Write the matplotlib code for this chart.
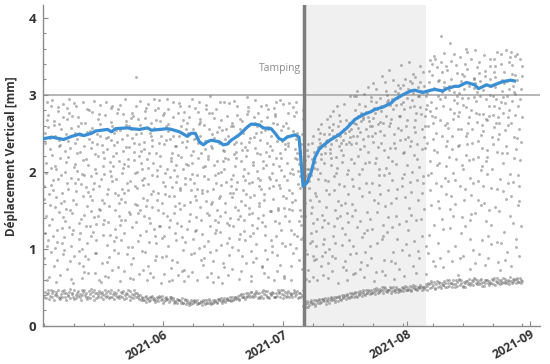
import matplotlib
matplotlib.use('Agg')
import matplotlib.pyplot as plt
import matplotlib.dates as mdates
import matplotlib.ticker as mticker
import numpy as np
import pandas as pd

plt.rcParams['font.family'] = ['Open Sans', 'DejaVu Sans']

# ---------------- data ----------------
first_day = '2021-05-02'
# hour of day of each of the 18 daily readings (same order as the values below)
reading_hours = [0.5, 14.2, 3.1, 19.6, 7.4, 11.8, 22.3, 5.2, 16.9,
                 1.7, 9.5, 20.8, 12.6, 4.3, 17.7, 8.1, 23.2, 13.4]
# daily readings in hundredths of mm, one row per day starting at first_day
scatter_hundredths = [
    [38, 212, 88, 267, 44, 143, 59, 238, 41, 181, 120, 291, 36, 165, 104, 250, 47, 198],
    [42, 157, 274, 96, 35, 229, 183, 63, 46, 258, 131, 205, 39, 112, 286, 171, 43, 244],
    [37, 266, 139, 208, 45, 78, 247, 176, 40, 293, 117, 154, 34, 222, 101, 189, 41, 261],
    [44, 190, 57, 233, 39, 279, 148, 124, 36, 203, 86, 262, 47, 167, 241, 109, 38, 284],
    [35, 127, 218, 288, 41, 173, 93, 255, 45, 66, 196, 141, 38, 235, 271, 160, 43, 107],
    [46, 249, 162, 74, 37, 213, 283, 136, 42, 115, 227, 186, 33, 98, 269, 200, 40, 152],
    [39, 84, 240, 192, 44, 150, 61, 276, 36, 219, 128, 257, 48, 177, 103, 295, 41, 231],
    [43, 206, 119, 251, 38, 91, 185, 164, 47, 273, 56, 237, 35, 146, 210, 125, 40, 289],
    [36, 271, 175, 133, 42, 259, 82, 201, 39, 158, 243, 97, 45, 286, 113, 224, 37, 190],
    [41, 100, 226, 168, 34, 62, 290, 139, 46, 248, 184, 215, 40, 121, 77, 263, 44, 197],
    [47, 180, 144, 282, 40, 216, 107, 233, 37, 70, 264, 155, 43, 196, 252, 90, 35, 129],
    [38, 253, 69, 195, 45, 129, 231, 87, 41, 174, 280, 116, 36, 209, 149, 242, 48, 168],
    [44, 141, 278, 223, 39, 186, 95, 163, 34, 239, 122, 68, 46, 257, 204, 178, 42, 292],
    [36, 220, 111, 59, 43, 268, 152, 199, 40, 94, 236, 275, 38, 132, 182, 249, 45, 143],
    [42, 163, 246, 132, 37, 81, 208, 287, 44, 150, 57, 226, 41, 262, 118, 191, 35, 235],
    [40, 290, 197, 105, 46, 244, 171, 138, 38, 218, 274, 83, 43, 159, 229, 65, 39, 256],
    [45, 118, 64, 241, 36, 201, 265, 177, 42, 135, 89, 283, 37, 245, 194, 156, 47, 213],
    [37, 235, 188, 151, 41, 99, 126, 260, 35, 285, 207, 172, 44, 73, 250, 221, 40, 110],
    [43, 76, 254, 214, 38, 282, 160, 115, 46, 190, 239, 142, 39, 225, 94, 277, 36, 170],
    [39, 198, 131, 275, 44, 165, 227, 58, 37, 254, 112, 205, 42, 287, 178, 137, 45, 243],
    [35, 261, 172, 93, 40, 137, 248, 210, 43, 71, 294, 185, 36, 120, 232, 161, 41, 266],
    [46, 145, 217, 255, 39, 232, 80, 176, 34, 207, 148, 270, 45, 102, 188, 259, 38, 62],
    [41, 226, 102, 181, 36, 272, 199, 128, 40, 244, 61, 158, 47, 276, 215, 88, 43, 237],
    [38, 110, 286, 236, 42, 157, 67, 249, 37, 323, 179, 221, 40, 135, 268, 200, 35, 146],
    [40, 204, 150, 72, 34, 250, 183, 292, 38, 118, 227, 166, 36, 261, 97, 212, 33, 189],
    [33, 283, 239, 164, 37, 96, 216, 143, 31, 192, 270, 60, 39, 230, 156, 279, 35, 123],
    [36, 134, 78, 264, 32, 224, 171, 205, 38, 288, 109, 246, 34, 184, 251, 140, 37, 69],
    [39, 257, 196, 117, 35, 63, 280, 233, 33, 154, 212, 85, 36, 241, 126, 175, 31, 294],
    [34, 172, 225, 293, 38, 202, 130, 90, 36, 267, 163, 238, 32, 108, 283, 194, 39, 151],
    [37, 89, 266, 147, 33, 246, 187, 221, 39, 129, 56, 274, 35, 208, 160, 256, 30, 114],
    [32, 241, 116, 204, 36, 171, 294, 67, 34, 236, 198, 142, 38, 277, 91, 181, 35, 259],
    [35, 193, 281, 75, 31, 128, 218, 253, 37, 104, 169, 214, 33, 262, 243, 58, 36, 138],
    [38, 147, 60, 234, 34, 290, 155, 180, 30, 224, 271, 121, 36, 86, 202, 247, 32, 168],
    [31, 276, 209, 160, 35, 83, 247, 111, 33, 187, 134, 289, 29, 233, 66, 195, 34, 222],
    [34, 115, 179, 267, 30, 219, 98, 286, 36, 152, 260, 203, 32, 176, 239, 130, 29, 71],
    [30, 232, 73, 126, 33, 192, 264, 157, 28, 278, 109, 240, 35, 58, 210, 184, 31, 255],
    [33, 161, 250, 222, 29, 136, 176, 65, 31, 209, 285, 93, 27, 249, 145, 271, 34, 190],
    [28, 95, 197, 283, 32, 256, 123, 211, 34, 70, 227, 168, 30, 294, 186, 113, 31, 243],
    [32, 238, 141, 101, 28, 178, 291, 244, 30, 163, 59, 262, 33, 125, 218, 196, 29, 278],
    [29, 176, 268, 236, 31, 86, 206, 154, 27, 246, 138, 79, 32, 265, 173, 225, 34, 119],
    [31, 287, 103, 175, 34, 229, 63, 261, 29, 195, 240, 146, 28, 88, 281, 208, 30, 162],
    [34, 130, 220, 69, 30, 276, 158, 191, 32, 110, 255, 233, 35, 217, 96, 144, 28, 298],
    [30, 209, 249, 137, 33, 57, 196, 277, 31, 231, 177, 121, 29, 161, 270, 84, 32, 244],
    [33, 64, 185, 258, 29, 150, 237, 99, 35, 282, 214, 166, 31, 124, 199, 252, 34, 135],
    [35, 254, 122, 214, 32, 200, 82, 169, 30, 142, 267, 228, 36, 290, 56, 183, 33, 105],
    [32, 187, 291, 107, 36, 242, 134, 227, 34, 76, 160, 273, 31, 203, 255, 148, 35, 218],
    [36, 140, 66, 182, 33, 114, 259, 238, 37, 217, 92, 190, 34, 247, 172, 289, 32, 131],
    [34, 223, 167, 292, 38, 173, 207, 74, 35, 263, 129, 154, 33, 102, 236, 196, 37, 259],
    [38, 98, 239, 151, 35, 285, 113, 218, 39, 178, 246, 61, 36, 226, 139, 274, 34, 187],
    [35, 266, 143, 228, 40, 71, 194, 256, 37, 119, 214, 176, 41, 269, 90, 162, 38, 238],
    [41, 171, 204, 81, 37, 232, 275, 123, 42, 250, 157, 297, 35, 138, 221, 111, 39, 189],
    [37, 116, 279, 244, 43, 153, 58, 198, 38, 228, 186, 97, 40, 284, 167, 239, 44, 145],
    [44, 245, 131, 170, 39, 209, 264, 147, 41, 65, 120, 231, 37, 187, 271, 213, 42, 83],
    [39, 192, 88, 276, 45, 127, 182, 251, 36, 293, 224, 155, 43, 106, 140, 260, 38, 201],
    [42, 78, 223, 135, 36, 266, 144, 189, 44, 160, 252, 205, 39, 241, 76, 178, 46, 286],
    [36, 287, 164, 226, 41, 99, 237, 69, 40, 214, 130, 271, 45, 171, 209, 118, 37, 254],
    [45, 149, 255, 191, 38, 220, 112, 281, 43, 87, 193, 149, 36, 258, 234, 63, 41, 179],
    [40, 210, 104, 59, 44, 182, 272, 228, 37, 247, 165, 136, 42, 96, 283, 199, 38, 263],
    [38, 262, 189, 153, 42, 71, 207, 117, 46, 275, 240, 183, 39, 218, 150, 290, 44, 92],
    [43, 125, 293, 240, 37, 254, 169, 79, 41, 133, 218, 260, 47, 179, 108, 224, 36, 202],
    [46, 229, 62, 166, 40, 142, 247, 195, 38, 288, 103, 212, 44, 65, 264, 153, 42, 236],
    [39, 176, 233, 106, 45, 289, 124, 257, 43, 189, 152, 78, 37, 237, 198, 277, 40, 136],
    [41, 94, 150, 273, 38, 197, 218, 161, 47, 60, 253, 230, 42, 172, 119, 204, 39, 284],
    [44, 251, 278, 201, 41, 116, 85, 242, 36, 163, 224, 136, 45, 291, 184, 101, 43, 217],
    [37, 143, 194, 74, 43, 236, 268, 179, 40, 210, 131, 280, 38, 151, 249, 227, 46, 113],
    [26, 98, 176, 61, 30, 142, 203, 187, 24, 115, 159, 228, 28, 79, 194, 131, 32, 215],
    [29, 204, 72, 163, 25, 188, 121, 236, 31, 93, 179, 147, 27, 221, 108, 197, 33, 58],
    [31, 133, 217, 85, 28, 246, 172, 110, 33, 196, 64, 226, 30, 154, 205, 238, 26, 91],
    [28, 226, 103, 191, 34, 59, 242, 168, 30, 213, 139, 256, 32, 87, 232, 123, 35, 204],
    [33, 77, 251, 144, 29, 217, 106, 233, 35, 162, 262, 90, 31, 238, 128, 199, 34, 223],
    [35, 189, 137, 240, 32, 96, 269, 212, 28, 66, 225, 176, 36, 249, 154, 113, 33, 234],
    [32, 249, 62, 225, 36, 171, 209, 134, 34, 241, 100, 272, 30, 188, 230, 82, 37, 258],
    [36, 117, 236, 176, 33, 262, 150, 91, 38, 218, 246, 130, 35, 71, 195, 254, 31, 279],
    [34, 205, 88, 259, 38, 140, 234, 199, 32, 108, 285, 162, 37, 241, 56, 219, 39, 249],
    [38, 157, 274, 127, 35, 228, 76, 246, 40, 184, 252, 105, 33, 266, 213, 143, 36, 237],
    [37, 84, 222, 267, 40, 119, 197, 256, 35, 241, 160, 73, 39, 288, 236, 182, 41, 250],
    [40, 239, 146, 93, 37, 264, 216, 171, 42, 60, 253, 298, 36, 135, 245, 202, 38, 112],
    [39, 181, 256, 211, 43, 104, 280, 142, 37, 236, 67, 264, 41, 190, 299, 158, 44, 246],
    [42, 128, 68, 273, 39, 246, 179, 298, 44, 151, 262, 221, 38, 95, 257, 237, 40, 305],
    [41, 266, 197, 115, 45, 83, 271, 230, 39, 288, 136, 203, 43, 252, 168, 74, 46, 277],
    [44, 96, 243, 278, 41, 211, 148, 63, 46, 268, 301, 186, 40, 120, 255, 233, 43, 285],
    [43, 213, 125, 260, 47, 174, 292, 247, 41, 79, 226, 139, 45, 271, 104, 310, 42, 266],
    [46, 270, 88, 164, 43, 239, 212, 126, 48, 297, 259, 58, 44, 186, 283, 246, 41, 315],
    [45, 148, 276, 232, 49, 108, 196, 290, 43, 251, 70, 262, 47, 307, 160, 218, 44, 281],
    [48, 237, 183, 71, 45, 285, 131, 265, 50, 203, 296, 113, 46, 253, 324, 171, 43, 279],
    [47, 66, 263, 205, 51, 155, 290, 248, 45, 117, 228, 305, 49, 86, 272, 196, 46, 316],
    [44, 199, 122, 287, 47, 260, 84, 219, 50, 300, 176, 264, 46, 141, 231, 293, 43, 332],
    [49, 282, 159, 238, 45, 96, 305, 189, 47, 268, 128, 61, 51, 295, 249, 214, 44, 319],
    [46, 113, 231, 302, 50, 178, 273, 143, 44, 81, 287, 257, 48, 210, 313, 166, 47, 296],
    [48, 254, 74, 192, 45, 288, 224, 309, 51, 132, 272, 98, 46, 241, 182, 300, 49, 339],
    [45, 167, 291, 136, 49, 243, 106, 281, 47, 313, 197, 260, 52, 65, 304, 226, 46, 321],
    [50, 92, 209, 318, 47, 153, 284, 245, 52, 296, 124, 187, 48, 267, 233, 308, 45, 343],
    [47, 302, 144, 258, 51, 78, 222, 293, 49, 174, 315, 110, 53, 240, 286, 200, 48, 327],
    [52, 216, 267, 97, 48, 189, 310, 137, 50, 252, 69, 298, 46, 323, 163, 277, 51, 236],
    [49, 139, 299, 229, 53, 275, 117, 316, 47, 206, 284, 173, 51, 88, 255, 337, 50, 305],
    [51, 273, 186, 104, 48, 231, 298, 152, 54, 330, 245, 67, 50, 194, 282, 312, 47, 260],
    [52, 118, 287, 214, 56, 331, 176, 259, 49, 302, 94, 345, 54, 238, 279, 196, 58, 316],
    [55, 243, 157, 309, 50, 84, 351, 272, 57, 199, 326, 131, 53, 291, 228, 340, 48, 263],
    [49, 336, 271, 108, 54, 226, 298, 185, 51, 347, 250, 162, 58, 77, 318, 283, 55, 209],
    [57, 182, 319, 247, 52, 376, 139, 295, 56, 211, 267, 329, 49, 153, 304, 88, 53, 342],
    [53, 297, 76, 338, 58, 261, 207, 316, 50, 126, 354, 171, 55, 286, 234, 310, 59, 192],
    [50, 219, 263, 152, 55, 306, 367, 97, 59, 240, 188, 281, 52, 332, 127, 257, 56, 312],
    [56, 143, 344, 293, 51, 198, 276, 229, 54, 321, 84, 303, 60, 169, 353, 246, 50, 268],
    [54, 328, 189, 66, 59, 289, 234, 339, 52, 158, 311, 255, 57, 103, 273, 217, 61, 299],
    [59, 256, 302, 209, 53, 120, 327, 181, 60, 278, 349, 141, 55, 235, 296, 88, 51, 318],
    [52, 177, 91, 284, 57, 340, 246, 307, 55, 203, 164, 360, 50, 287, 222, 324, 58, 129],
    [58, 312, 236, 137, 54, 271, 113, 355, 61, 250, 296, 192, 56, 333, 74, 263, 53, 215],
    [55, 99, 280, 322, 60, 216, 297, 170, 53, 347, 238, 309, 58, 145, 320, 255, 62, 186],
    [61, 265, 146, 240, 56, 303, 188, 82, 59, 315, 277, 219, 54, 358, 163, 292, 57, 336],
    [54, 202, 328, 112, 59, 157, 261, 343, 56, 93, 299, 231, 61, 275, 207, 318, 52, 248],
    [57, 331, 253, 294, 52, 79, 214, 275, 60, 182, 352, 136, 55, 306, 268, 160, 59, 324],
    [60, 151, 197, 346, 55, 285, 320, 228, 58, 267, 116, 300, 53, 219, 337, 88, 56, 273],
    [56, 274, 106, 258, 61, 236, 347, 179, 54, 312, 245, 329, 59, 131, 286, 203, 62, 298],
    [53, 226, 310, 83, 58, 178, 271, 337, 62, 154, 295, 242, 57, 323, 109, 263, 55, 356],
    [59, 107, 263, 319, 54, 340, 224, 149, 57, 283, 190, 305, 60, 249, 353, 72, 56, 291],
    [62, 289, 175, 233, 57, 122, 358, 276, 55, 211, 330, 165, 61, 297, 254, 315, 58, 86],
    [55, 342, 299, 142, 60, 261, 197, 318, 58, 96, 271, 349, 54, 224, 308, 186, 63, 280],
    [58, 187, 78, 303, 56, 327, 245, 264, 61, 168, 339, 218, 57, 355, 133, 292, 59, 311],
    [61, 244, 326, 196, 55, 113, 286, 350, 59, 301, 230, 157, 62, 274, 353, 102, 57, 319],
    [57, 308, 162, 271, 62, 215, 337, 90, 56, 256, 294, 325, 60, 181, 239, 347, 58, 129],
]

line_dates = [
    '2021-05-02', '2021-05-04', '2021-05-06', '2021-05-07', '2021-05-09',
    '2021-05-11', '2021-05-12', '2021-05-14', '2021-05-15', '2021-05-18',
    '2021-05-19', '2021-05-20', '2021-05-23', '2021-05-24', '2021-05-26',
    '2021-05-28', '2021-05-29', '2021-05-31', '2021-06-02', '2021-06-03',
    '2021-06-05', '2021-06-07', '2021-06-08', '2021-06-09', '2021-06-10',
    '2021-06-11', '2021-06-12', '2021-06-13', '2021-06-15', '2021-06-16',
    '2021-06-17', '2021-06-18', '2021-06-20', '2021-06-22', '2021-06-23',
    '2021-06-25', '2021-06-26', '2021-06-28', '2021-06-29', '2021-06-30',
    '2021-07-01', '2021-07-02', '2021-07-04', '2021-07-05', '2021-07-06',
    '2021-07-07', '2021-07-08', '2021-07-09', '2021-07-10', '2021-07-11',
    '2021-07-13', '2021-07-15', '2021-07-17', '2021-07-19', '2021-07-20',
    '2021-07-21', '2021-07-23', '2021-07-24', '2021-07-26', '2021-07-28',
    '2021-07-29', '2021-07-31', '2021-08-02', '2021-08-03', '2021-08-05',
    '2021-08-07', '2021-08-08', '2021-08-10', '2021-08-11', '2021-08-13',
    '2021-08-14', '2021-08-16', '2021-08-18', '2021-08-19', '2021-08-21',
    '2021-08-22', '2021-08-23', '2021-08-25', '2021-08-27', '2021-08-28',
]
line_values = [
    2.43, 2.45, 2.43, 2.42, 2.46,
    2.49, 2.47, 2.50, 2.53, 2.55,
    2.52, 2.56, 2.57, 2.56, 2.55,
    2.57, 2.54, 2.55, 2.56, 2.55,
    2.52, 2.46, 2.50, 2.50, 2.39,
    2.35, 2.39, 2.41, 2.39, 2.35,
    2.36, 2.41, 2.48, 2.58, 2.62,
    2.61, 2.57, 2.56, 2.50, 2.43,
    2.41, 2.45, 2.48, 2.45, 1.81,
    1.86, 1.99, 2.19, 2.29, 2.34,
    2.42, 2.48, 2.57, 2.68, 2.71,
    2.74, 2.78, 2.81, 2.84, 2.89,
    2.94, 3.00, 3.05, 3.06, 3.03,
    3.06, 3.07, 3.05, 3.08, 3.11,
    3.11, 3.16, 3.13, 3.08, 3.13,
    3.11, 3.13, 3.17, 3.19, 3.18,
]

tamping_date = '2021-07-06 03:00'
works_end = '2021-08-05 18:00'
threshold = 3.0
y_ticks = [0, 1, 2, 3, 4]
month_ticks = ['2021-06-01', '2021-07-01', '2021-08-01', '2021-09-01']

# ---------------- figure ----------------
fig = plt.figure(figsize=(5.5, 3.64), dpi=100)
ax = fig.add_axes([0.078, 0.105, 0.904, 0.881])

days = pd.date_range(first_day, periods=len(scatter_hundredths), freq='D')
xs, ys = [], []
for d, vals in zip(days, scatter_hundredths):
    for h, v in zip(reading_hours, vals):
        xs.append(d + pd.Timedelta(hours=h))
        ys.append(v / 100.0)

t0 = pd.Timestamp(tamping_date)
ax.axvspan(t0, pd.Timestamp(works_end), color='#f0f0f0', lw=0, zorder=0)
ax.scatter(xs, ys, s=4.5, c='#777777', alpha=0.55, lw=0, zorder=2)
ax.axhline(threshold, color='#a9a9a9', lw=1.2, zorder=1)
ax.axvline(t0, color='#7d7d7d', lw=2.5, zorder=3)
ax.plot(pd.to_datetime(line_dates), line_values, color='#3a8fd4', lw=2.3,
        zorder=4, solid_joinstyle='round')
ax.text(t0 - pd.Timedelta(hours=14), 3.34, 'Tamping', ha='right', va='center',
        fontsize=7.5, color='#8c8c8c')

ax.set_xlim(pd.Timestamp('2021-05-01 19:00'), pd.Timestamp('2021-09-03 10:00'))
ax.set_ylim(0, 4.165)

ax.xaxis.set_major_locator(mticker.FixedLocator(mdates.date2num(pd.to_datetime(month_ticks))))
ax.xaxis.set_major_formatter(mdates.DateFormatter('%Y-%m'))
minor_start = mdates.date2num(pd.Timestamp('2021-06-01'))
ax.xaxis.set_minor_locator(mticker.FixedLocator(minor_start + np.arange(-4, 13) * 7.5))
ax.yaxis.set_major_locator(mticker.FixedLocator(y_ticks))
ax.yaxis.set_minor_locator(mticker.MultipleLocator(0.2))

for s in ['top', 'right']:
    ax.spines[s].set_visible(False)
for s in ['left', 'bottom']:
    ax.spines[s].set_color('#8c8c8c')
    ax.spines[s].set_linewidth(1.0)

ax.tick_params(axis='both', which='both', direction='in', color='#8c8c8c', width=0.8)
ax.tick_params(axis='both', which='major', length=3.5)
ax.tick_params(axis='both', which='minor', length=2.5)
ax.tick_params(axis='y', labelsize=9.5, labelcolor='#333333', pad=5)
ax.tick_params(axis='x', labelsize=8.8, labelcolor='#333333', pad=1.5)
for lab in ax.get_yticklabels():
    lab.set_fontweight('bold')
for lab in ax.get_xticklabels():
    lab.set_rotation(30)
    lab.set_ha('right')
    lab.set_va('top')
    lab.set_rotation_mode('anchor')
    lab.set_fontweight('bold')

ax.set_ylabel('Déplacement Vertical [mm]', fontsize=8.5, color='#333333',
              fontweight='bold', labelpad=6)
ax.yaxis.set_label_coords(-0.05, 0.53)

fig.savefig('out.png', dpi=100)
